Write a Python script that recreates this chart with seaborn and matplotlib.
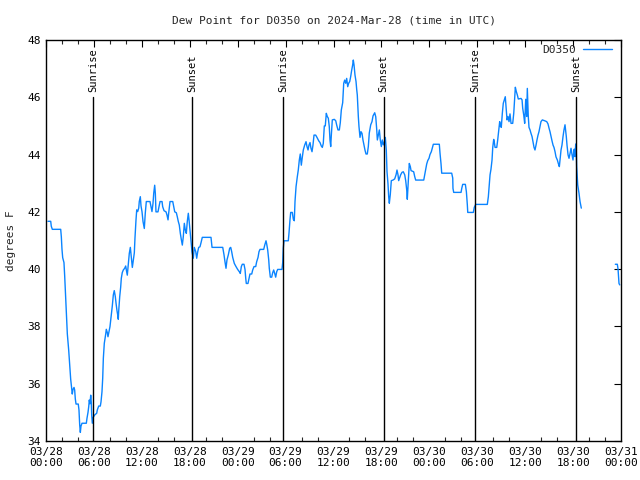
import numpy as np
import pandas as pd
import matplotlib
matplotlib.use("Agg")
import matplotlib.pyplot as plt
import matplotlib.dates as mdates
import seaborn as sns

# hours since 2024-03-28 00:00 UTC and dew point (F), main segment
hours_a = [0.25, 0.59, 0.66, 0.79, 1.84, 1.92, 2.00, 2.09, 2.25, 2.34, 2.47, 2.59, 2.67, 2.84, 2.97,
           3.09, 3.22, 3.29, 3.38, 3.51, 3.59, 3.67, 3.76, 4.04, 4.13, 4.22, 4.30, 4.38, 4.51, 5.05,
           5.13, 5.26, 5.35, 5.42, 5.51, 5.60, 5.67, 5.72, 5.80, 5.92, 6.10, 6.35, 6.42, 6.60, 6.80,
           6.89, 7.01, 7.10, 7.18, 7.30, 7.48, 7.55, 7.68, 7.76, 7.89, 8.01, 8.18, 8.30, 8.43, 8.55,
           8.68, 8.77, 8.89, 8.98, 9.05, 9.10, 9.23, 9.35, 9.43, 9.55, 9.68, 9.85, 9.98, 10.06, 10.18,
           10.27, 10.43, 10.56, 10.68, 10.81, 10.93, 11.06, 11.14, 11.27, 11.36, 11.48, 11.61, 11.68, 11.81, 11.90,
           12.02, 12.15, 12.23, 12.31, 12.43, 12.56, 13.02, 13.15, 13.27, 13.40, 13.49, 13.61, 13.69, 13.77, 14.02,
           14.15, 14.28, 14.53, 14.61, 14.78, 15.03, 15.15, 15.28, 15.36, 15.53, 15.87, 15.99, 16.12, 16.32, 16.44,
           16.57, 16.69, 16.82, 16.94, 17.07, 17.19, 17.32, 17.44, 17.57, 17.69, 17.82, 17.91, 18.03, 18.16, 18.28,
           18.44, 18.57, 18.75, 18.87, 19.00, 19.12, 19.28, 19.41, 19.57, 20.66, 20.79, 22.13, 22.29, 22.41, 22.54,
           22.66, 22.83, 23.00, 23.13, 23.25, 23.38, 23.58, 23.79, 24.00, 24.21, 24.33, 24.46, 24.58, 24.79, 24.92,
           25.01, 25.08, 25.29, 25.42, 25.54, 25.76, 25.88, 26.05, 26.26, 26.38, 26.55, 26.67, 26.80, 27.26, 27.39,
           27.55, 27.64, 27.76, 27.89, 27.96, 28.09, 28.26, 28.39, 28.51, 28.64, 28.76, 28.89, 29.01, 29.55, 29.64,
           29.71, 29.80, 30.34, 30.43, 30.55, 30.64, 30.84, 30.97, 31.09, 31.18, 31.31, 31.47, 31.59, 31.72, 31.84,
           31.97, 32.09, 32.22, 32.39, 32.56, 32.68, 32.81, 32.93, 33.06, 33.18, 33.31, 33.43, 33.56, 33.77, 33.93,
           34.15, 34.31, 34.47, 34.60, 34.72, 34.85, 34.97, 35.10, 35.22, 35.35, 35.47, 35.56, 35.65, 35.73, 35.85,
           36.10, 36.28, 36.40, 36.56, 36.73, 36.85, 36.98, 37.15, 37.28, 37.40, 37.53, 37.65, 37.78, 37.90, 38.03,
           38.15, 38.28, 38.40, 38.48, 38.57, 38.69, 38.82, 38.91, 38.98, 39.11, 39.19, 39.32, 39.44, 39.57, 39.69,
           39.82, 39.94, 40.07, 40.23, 40.36, 40.48, 40.66, 40.82, 40.95, 41.16, 41.29, 41.41, 41.49, 41.61, 41.74,
           41.86, 41.99, 42.11, 42.24, 42.36, 42.49, 42.61, 42.70, 42.82, 42.91, 42.99, 43.11, 43.24, 43.45, 43.66,
           43.83, 43.95, 44.08, 44.16, 44.29, 44.42, 44.58, 44.74, 44.92, 45.04, 45.17, 45.24, 45.33, 45.42, 45.49,
           45.62, 45.71, 46.04, 46.17, 46.29, 47.30, 47.42, 47.55, 47.67, 47.80, 47.96, 48.08, 48.25, 48.37, 48.50,
           49.25, 49.34, 49.46, 49.55, 50.80, 50.93, 50.96, 51.05, 51.97, 52.06, 52.18, 52.51, 52.64, 52.76, 52.81,
           53.51, 53.63, 53.81, 55.26, 55.39, 55.51, 55.60, 55.72, 55.85, 55.94, 56.06, 56.14, 56.23, 56.44, 56.56,
           56.69, 56.81, 56.89, 57.01, 57.14, 57.26, 57.39, 57.51, 57.60, 57.73, 57.85, 57.98, 58.10, 58.23, 58.44,
           58.57, 58.69, 58.77, 58.89, 59.02, 59.14, 59.48, 59.61, 59.69, 59.82, 59.94, 60.07, 60.19, 60.27, 60.39,
           60.48, 60.61, 60.73, 60.86, 60.98, 61.11, 61.23, 61.36, 61.48, 61.61, 61.73, 61.86, 61.98, 62.15, 62.45,
           62.70, 62.86, 62.99, 63.11, 63.24, 63.36, 63.49, 63.61, 63.74, 63.86, 64.03, 64.15, 64.28, 64.36, 64.49,
           64.61, 64.74, 64.86, 64.99, 65.08, 65.15, 65.24, 65.37, 65.49, 65.62, 65.74, 65.87, 65.99, 66.08, 66.15,
           66.24, 66.33, 66.40, 66.45, 66.58, 66.74, 66.87, 67.03]
dew_a = [41.67, 41.67, 41.50, 41.39, 41.39, 41.13, 40.70, 40.40, 40.23, 39.76, 38.98, 38.32, 37.74, 37.18, 36.63,
         36.16, 35.84, 35.64, 35.80, 35.87, 35.78, 35.47, 35.29, 35.29, 35.08, 34.56, 34.30, 34.52, 34.62, 34.62,
         34.79, 35.00, 35.20, 35.43, 35.30, 35.60, 35.35, 34.91, 34.62, 34.83, 34.91, 34.97, 35.08, 35.22, 35.22,
         35.37, 35.72, 36.19, 36.89, 37.41, 37.74, 37.90, 37.78, 37.64, 37.82, 37.99, 38.40, 38.71, 39.10, 39.25,
         39.04, 38.81, 38.55, 38.40, 38.25, 38.52, 39.04, 39.37, 39.68, 39.88, 39.97, 40.03, 40.11, 39.97, 39.79,
         40.06, 40.55, 40.76, 40.44, 40.06, 40.30, 40.57, 41.08, 41.72, 42.07, 42.01, 42.13, 42.36, 42.53, 42.20,
         42.01, 41.66, 41.54, 41.42, 41.95, 42.36, 42.36, 42.18, 42.01, 42.30, 42.65, 42.93, 42.65, 42.00, 42.00,
         42.18, 42.36, 42.36, 42.18, 42.04, 42.00, 41.89, 41.72, 41.95, 42.36, 42.36, 42.18, 42.00, 41.97, 41.83,
         41.66, 41.54, 41.25, 41.04, 40.84, 41.13, 41.60, 41.37, 41.25, 41.66, 41.95, 41.72, 41.37, 40.96, 40.61,
         40.38, 40.76, 40.61, 40.38, 40.61, 40.76, 40.78, 40.92, 41.11, 41.11, 40.76, 40.76, 40.50, 40.26, 40.03,
         40.32, 40.50, 40.73, 40.76, 40.61, 40.41, 40.20, 40.09, 39.99, 39.91, 39.85, 40.09, 40.17, 40.17, 39.99,
         39.68, 39.50, 39.50, 39.68, 39.83, 39.83, 39.97, 40.09, 40.09, 40.26, 40.41, 40.61, 40.69, 40.69, 40.84,
         40.99, 40.87, 40.67, 40.32, 40.03, 39.72, 39.72, 39.88, 39.97, 39.85, 39.72, 39.91, 39.99, 39.99, 40.23,
         40.73, 40.99, 40.99, 41.27, 41.72, 41.98, 41.98, 41.74, 41.69, 42.36, 42.88, 43.23, 43.46, 43.81, 44.02,
         43.63, 43.90, 44.16, 44.33, 44.45, 44.28, 44.16, 44.33, 44.42, 44.22, 44.10, 44.33, 44.68, 44.68, 44.60,
         44.48, 44.42, 44.30, 44.25, 44.39, 45.00, 45.00, 45.44, 45.33, 45.27, 44.98, 44.51, 44.28, 44.68, 45.21,
         45.23, 45.18, 45.03, 44.86, 44.86, 45.11, 45.56, 45.81, 46.49, 46.60, 46.49, 46.66, 46.37, 46.49, 46.55,
         46.72, 46.95, 47.13, 47.30, 47.13, 46.78, 46.55, 46.26, 46.08, 45.32, 44.98, 44.60, 44.80, 44.74, 44.51,
         44.33, 44.16, 44.02, 44.02, 44.28, 44.75, 45.04, 45.15, 45.35, 45.46, 45.32, 44.88, 44.51, 44.68, 44.86,
         44.51, 44.28, 44.51, 44.34, 44.42, 44.60, 44.16, 43.40, 42.99, 42.53, 42.30, 42.60, 43.09, 43.11, 43.15,
         43.29, 43.46, 43.29, 43.09, 43.20, 43.30, 43.38, 43.40, 43.29, 43.09, 42.76, 42.44, 42.88, 43.30, 43.69,
         43.58, 43.44, 43.40, 43.23, 43.11, 43.11, 43.30, 43.49, 43.67, 43.79, 43.87, 44.00, 44.10, 44.22, 44.36,
         44.36, 44.04, 43.69, 43.35, 43.35, 43.18, 42.82, 42.68, 42.68, 42.82, 42.96, 42.96, 42.70, 42.24, 41.98,
         41.98, 42.16, 42.26, 42.26, 42.53, 42.99, 43.29, 43.49, 43.81, 44.25, 44.53, 44.42, 44.25, 44.25, 44.51,
         44.86, 45.15, 45.00, 44.95, 45.44, 45.79, 45.91, 46.02, 45.69, 45.21, 45.33, 45.15, 45.42, 45.09, 45.09,
         45.44, 46.02, 46.35, 46.20, 46.08, 45.94, 45.96, 45.91, 45.62, 45.38, 45.09, 45.93, 45.33, 46.31, 45.33,
         44.95, 44.86, 44.74, 44.63, 44.45, 44.25, 44.16, 44.33, 44.51, 44.68, 44.80, 44.98, 45.15, 45.21, 45.18,
         45.15, 45.07, 44.92, 44.80, 44.63, 44.48, 44.33, 44.25, 44.10, 43.92, 43.81, 43.69, 43.58, 43.81, 44.16,
         44.33, 44.63, 44.86, 45.04, 44.80, 44.63, 44.33, 43.99, 43.87, 44.04, 44.22, 43.99, 43.81, 44.10, 44.19,
         43.93, 44.37, 44.16, 43.58, 42.94, 42.65, 42.36, 42.13]

# short segment after the data gap
hours_b = [71.29, 71.54, 71.63, 71.75, 71.84]
dew_b = [40.17, 40.17, 40.00, 39.50, 39.45]

sunrise_hours = [5.87, 29.72, 53.70]
sunset_hours = [18.30, 42.28, 66.40]

station = "D0350"
title = "Dew Point for D0350 on 2024-Mar-28 (time in UTC)"
base = pd.Timestamp("2024-03-28 00:00")

df = pd.DataFrame({
    "time": base + pd.to_timedelta(hours_a + hours_b, unit="h"),
    "dew": dew_a + dew_b,
    "seg": [0] * len(hours_a) + [1] * len(hours_b),
})

sns.set_theme(style="white")
plt.rcParams["font.family"] = ["DejaVu Sans Mono", "DejaVu Sans"]
plt.rcParams["font.size"] = 7.5

fig = plt.figure(figsize=(6.4, 4.8), dpi=100)
ax = fig.add_axes([46 / 640, 39 / 480, 575 / 640, 401 / 480])

line_color = "#0a84ff"
sns.lineplot(data=df, x="time", y="dew", units="seg", estimator=None,
             color=line_color, linewidth=1.0, ax=ax, legend=False)

for h in sunrise_hours + sunset_hours:
    t = base + pd.Timedelta(hours=h)
    ax.plot([t, t], [34, 46], color="black", linewidth=1.0, zorder=3)
for h in sunrise_hours:
    t = base + pd.Timedelta(hours=h)
    ax.text(t, 46.2, "Sunrise", rotation=90, ha="center", va="bottom", fontsize=7.5, color="black")
for h in sunset_hours:
    t = base + pd.Timedelta(hours=h)
    ax.text(t, 46.2, "Sunset", rotation=90, ha="center", va="bottom", fontsize=7.5, color="black")

ax.set_xlim(base, base + pd.Timedelta(hours=72))
ax.set_ylim(34, 48)
ax.set_yticks(np.arange(34, 49, 2))
ax.xaxis.set_major_locator(mdates.HourLocator(byhour=[0, 6, 12, 18]))
ax.xaxis.set_minor_locator(mdates.HourLocator(byhour=list(range(0, 24, 2))))
ax.xaxis.set_major_formatter(mdates.DateFormatter("%m/%d\n%H:%M"))

ax.tick_params(axis="both", which="major", direction="in", length=5, width=0.8,
               top=True, right=True, labelsize=8, colors="black", pad=4)
ax.tick_params(axis="x", which="minor", direction="in", length=3, width=0.8, top=True, bottom=True)
for sp in ax.spines.values():
    sp.set_color("black")
    sp.set_linewidth(1.0)

ax.set_xlabel("")
ax.set_ylabel("degrees F", fontsize=8, labelpad=8)
ax.set_title(title, fontsize=8, pad=12)

ax.plot([], [], color=line_color, linewidth=1.0, label=station)
leg = ax.legend(loc="upper right", bbox_to_anchor=(0.988, 0.993), frameon=False, fontsize=8,
                markerfirst=False, handlelength=2.6, borderaxespad=0.0, borderpad=0.2,
                handletextpad=0.6)

fig.savefig("out.png", dpi=100)
